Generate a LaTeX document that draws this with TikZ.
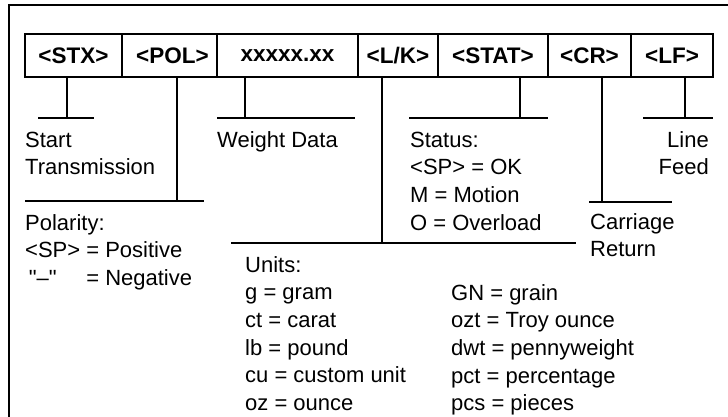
\documentclass[tikz,border=0pt]{standalone}
\usepackage{fontspec}
\setmainfont{Liberation Sans}
\tikzset{
  field/.style={draw,line width=2pt,minimum height=43pt,inner sep=0pt,
    font=\fontsize{22.5}{28}\selectfont\bfseries},
  note/.style={inner sep=0pt,align=left,anchor=base west,
    font=\fontsize{22}{27.7}\selectfont},
  stem/.style={line width=2pt}
}
\begin{document}
\begin{tikzpicture}[yscale=-1,x=1pt,y=1pt]
  \useasboundingbox (0,0) rectangle (728,417);
  \draw[line width=2.5pt](9,417) -- (9,5) -- (728,5);
  \node[field,minimum width=97pt] (stx) at (73.5,55.5) {<STX>};
  \node[field,minimum width=95pt] (pol) at (169.5,55.5) {\hspace{6pt}<POL>};
  \node[field,minimum width=141pt] (wt) at (287.5,55.5) {xxxxx.xx\hspace{17pt}};
  \node[field,minimum width=80pt] (lk) at (398,55.5) {<L/K>};
  \node[field,minimum width=110pt] (stat) at (493,55.5) {<STAT>};
  \node[field,minimum width=83pt] (cr) at (589.5,55.5) {<CR>};
  \node[field,minimum width=82pt] (lf) at (672,55.5) {<LF>};
  \coordinate (stxbar) at (67,118);
  \coordinate (polbar) at (177,201);
  \coordinate (wtbar) at (245,118);
  \coordinate (lkbar) at (382,243);
  \coordinate (statbar) at (520,118);
  \coordinate (crbar) at (602,202);
  \coordinate (lfbar) at (685,118);
  \draw[stem] (stx.south -| stxbar) -- (stxbar) (38,118) -- (94,118);
  \draw[stem] (pol.south -| polbar) -- (polbar) (25,201) -- (204,201);
  \draw[stem] (wt.south -| wtbar) -- (wtbar) (217,118) -- (355,118);
  \draw[stem] (lk.south -| lkbar) -- (lkbar) (231,243) -- (576,243);
  \draw[stem] (stat.south -| statbar) -- (statbar) (409,118) -- (548,118);
  \draw[stem] (cr.south -| crbar) -- (crbar) (589,202) -- (672,202);
  \draw[stem] (lf.south -| lfbar) -- (lfbar) (643,118) -- (713,118);
  \node[note] (start) at (25,174.7) {Start\\Transmission};
  \node[note] (weight) at (217,147) {Weight Data};
  \node[note] (status) at (410,230.1) {Status:\\<SP> = OK\\M = Motion\\O = Overload};
  \node[note,align=right,anchor=base east] (feed) at (709,174.7) {Line\\Feed};
  \node[note] (carriage) at (590,256.7) {Carriage\\Return};
  \node[note] (polarity) at (25,285.4)
    {Polarity:\\<SP> = Positive\\\rlap{\,\textquotedbl--\textquotedbl}\phantom{<SP>} = Negative};
  \node[note] (units) at (245,410.5)
    {Units:\\g = gram\\ct = carat\\lb = pound\\cu = custom unit\\oz = ounce};
  \node[note] (moreunits) at (451,410.8)
    {GN = grain\\ozt = Troy ounce\\dwt = pennyweight\\pct = percentage\\pcs = pieces};
\end{tikzpicture}
\end{document}
